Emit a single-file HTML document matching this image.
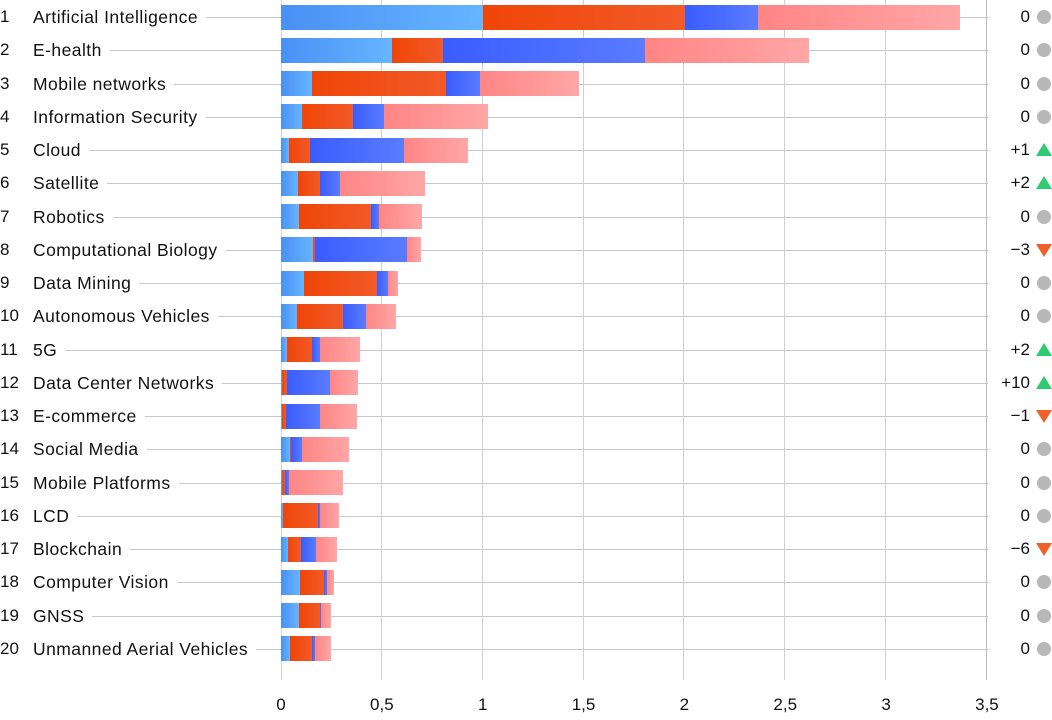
<!DOCTYPE html>
<html><head><meta charset="utf-8"><style>
body{margin:0;width:1052px;height:720px;background:#fff;font-family:"Liberation Sans",sans-serif;color:#111;position:relative;overflow:hidden}
.vg{position:absolute;top:0;width:1px;height:680px;background:#d0d0d0}
.hl{position:absolute;height:1px;background:#c8c8c8;left:34px;width:954px}
.rk{position:absolute;left:0px;font-size:17px;line-height:20px}
.lb{position:absolute;left:33px;font-size:17.5px;letter-spacing:0.45px;line-height:20px;background:#fff;padding-right:8px}
.seg{position:absolute;height:25px}
.c1{background:linear-gradient(90deg,#4a90f5,#66b5ff)}
.c2{background:linear-gradient(90deg,#f04508,#f25a28)}
.c3{background:linear-gradient(90deg,#3a5cff,#5a7cff)}
.c4{background:linear-gradient(90deg,#ff8585,#ffa6a6)}
.ch{position:absolute;right:22px;font-size:17px;line-height:20px;text-align:right}
.dot{position:absolute;left:1037px;width:14px;height:14px;border-radius:50%;background:#b8b8b8}
.up{position:absolute;left:1036px;width:0;height:0;border-left:8px solid transparent;border-right:8px solid transparent;border-bottom:13px solid #2ecc71}
.dn{position:absolute;left:1036px;width:0;height:0;border-left:8px solid transparent;border-right:8px solid transparent;border-top:13px solid #f0602a}
.ax{position:absolute;top:695px;font-size:17px;transform:translateX(-50%)}
</style></head><body>
<div id="c"></div>
<script>
const names=["Artificial Intelligence","E-health","Mobile networks","Information Security","Cloud","Satellite","Robotics","Computational Biology","Data Mining","Autonomous Vehicles","5G","Data Center Networks","E-commerce","Social Media","Mobile Platforms","LCD","Blockchain","Computer Vision","GNSS","Unmanned Aerial Vehicles"];
const segs=[[483,685,758,960],[392,443,645,809],[312,446,480,579],[302,353,384,488],[289,310,404,468],[298,320,340,425],[299,371,379,422],[313,315,407,421],[304,377,388,398],[297,343,366,396],[287,312,320,360],[282,287,330,358],[282,286,320,357],[290,291,302,349],[282,285,289,343],[283,318,320,339],[288,301,316,337],[300,324,327,334],[299,320,321,331],[290,312,315,331]];
const ch=[["0","d"],["0","d"],["0","d"],["0","d"],["+1","u"],["+2","u"],["0","d"],["−3","n"],["0","d"],["0","d"],["+2","u"],["+10","u"],["−1","n"],["0","d"],["0","d"],["0","d"],["−6","n"],["0","d"],["0","d"],["0","d"]];
let h="";
const gx=v=>281+v*201.7;
for(let i=0;i<20;i++){const y=17+i*33.26;h+=`<div class="hl" style="top:${Math.round(y)}px"></div>`;}
for(let k=0;k<=7;k++){h+=`<div class="vg" style="left:${Math.round(gx(k*0.5))-(k==0?0:1)}px;${k==7?'background:#bbb;':''}"></div>`;
h+=`<div class="ax" style="left:${gx(k*0.5)}px">${["0","0,5","1","1,5","2","2,5","3","3,5"][k]}</div>`;}
for(let i=0;i<20;i++){const y=17+i*33.26;
h+=`<div class="rk" style="top:${y-10}px">${i+1}</div><div class="lb" style="top:${y-10}px">${names[i]}</div>`;
let s=281;segs[i].forEach((e,j)=>{h+=`<div class="seg c${j+1}" style="left:${s}px;width:${e-s}px;top:${y-12.5}px"></div>`;s=e;});
h+=`<div class="ch" style="top:${y-10}px">${ch[i][0]}</div>`;
if(ch[i][1]=="d")h+=`<div class="dot" style="top:${y-7}px"></div>`;
else if(ch[i][1]=="u")h+=`<div class="up" style="top:${y-7}px"></div>`;
else h+=`<div class="dn" style="top:${y-6}px"></div>`;}
document.getElementById("c").innerHTML=h;
</script>
</body></html>
